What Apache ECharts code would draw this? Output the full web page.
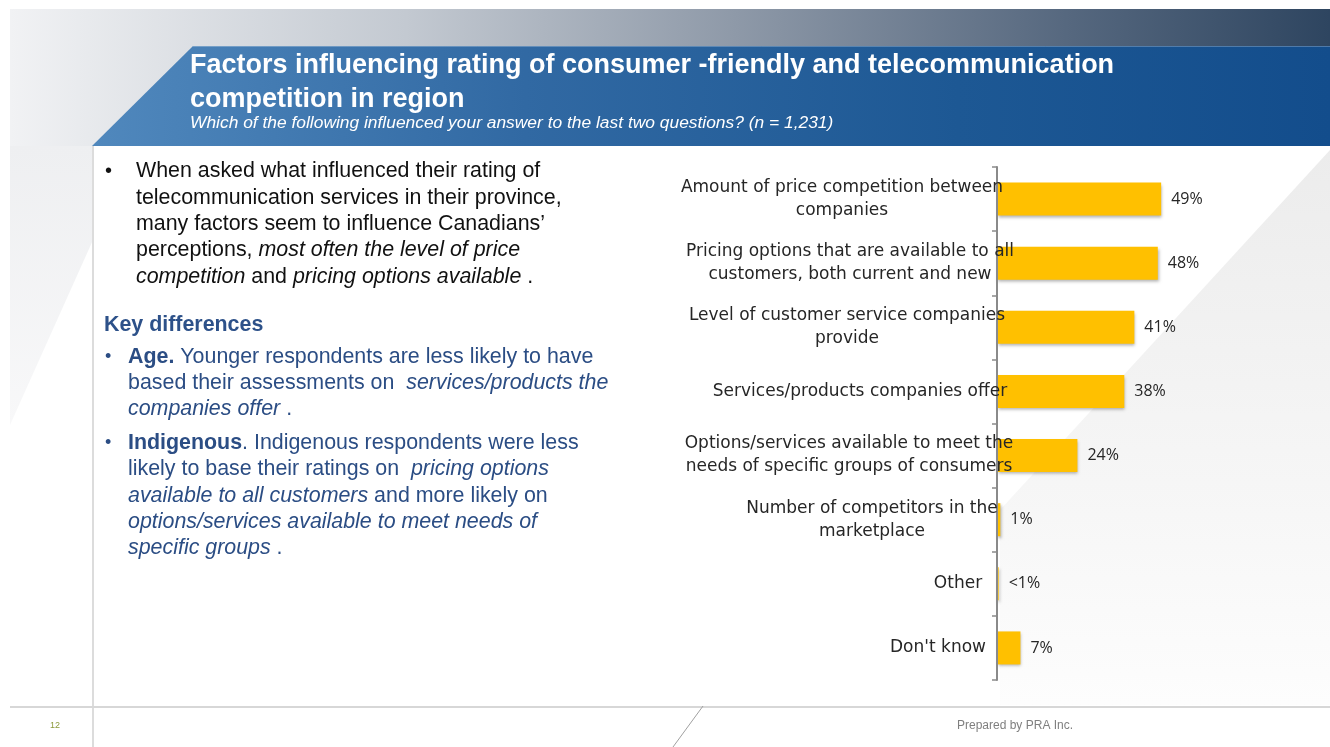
<!DOCTYPE html>
<html>
<head>
<meta charset="utf-8">
<title>Factors influencing rating of consumer-friendly and telecommunication competition in region</title>
<script src="https://cdn.jsdelivr.net/npm/echarts@6/dist/echarts.min.js"></script>
<style>
  html, body { margin: 0; padding: 0; background: #ffffff; }
  #chart { width: 1330px; height: 747px; }
</style>
</head>
<body>
<div id="chart"></div>
<script>
// Survey answers: share of respondents naming each factor (%)
const categories = [
  'Amount of price competition between\ncompanies',
  'Pricing options that are available to all\ncustomers, both current and new',
  'Level of customer service companies\nprovide',
  'Services/products companies offer',
  'Options/services available to meet the\nneeds of specific groups of consumers',
  'Number of competitors in the\nmarketplace',
  'Other',
  "Don't know"
];
const shares = [49, 48, 41, 38, 24, 1, 0.5, 7];

const titleLines = [
  'Factors influencing rating of consumer -friendly and telecommunication',
  'competition in region'
];
const subtitle = 'Which of the following influenced your answer to the last two questions? (n = 1,231)';

// Commentary beside the chart (rich-text markup: {i|..} italic, {b|..} bold)
const summaryLines = [
  'When asked what influenced their rating of',
  'telecommunication services in their province,',
  'many factors seem to influence Canadians\u2019',
  'perceptions, {i|most often the level of price}',
  '{i|competition} and {i|pricing options available} .'
];
const keyHeading = 'Key differences';
const ageLines = [
  '{b|Age.} Younger respondents are less likely to have',
  'based their assessments on  {i|services/products the}',
  '{i|companies offer} .'
];
const indigenousLines = [
  '{b|Indigenous}. Indigenous respondents were less',
  'likely to base their ratings on  {i|pricing options}',
  '{i|available to all customers} and more likely on',
  '{i|options/services available to meet needs of}',
  '{i|specific groups} .'
];

// ---- layout ----
const LABEL_FONT = '"DejaVu Sans", sans-serif';
const BODY_FONT = '"Liberation Sans", Arial, sans-serif';
const BODY_SIZE = 21.4;
// horizontal centre of each category label, relative to the common anchor
const labelCentreShift = [-8, 0, -3, 10, -1, 22, 108, 88];

function shiftPadding(s) {
  return s >= 0 ? [0, 0, 0, 2 * s] : [0, -2 * s, 0, 0];
}

function textLines(lines, x, ys, color, size) {
  return lines.map((t, i) => ({
    type: 'text', x: x, y: ys[i], z: 10,
    style: {
      text: t, fill: color, font: size + 'px ' + BODY_FONT,
      verticalAlign: 'middle', align: 'left',
      rich: {
        i: { fontStyle: 'italic', fontSize: size, fontFamily: BODY_FONT, fill: color, verticalAlign: 'middle' },
        b: { fontWeight: 'bold', fontSize: size, fontFamily: BODY_FONT, fill: color, verticalAlign: 'middle' }
      }
    }
  }));
}

const BLUE_TEXT = '#2b4d84';
const graphics = [
  // header grey band
  { type: 'rect', z: 0, shape: { x: 10, y: 9, width: 1320, height: 137 },
    style: { fill: new echarts.graphic.LinearGradient(0, 0, 1, 0, [
      { offset: 0, color: '#f1f2f4' }, { offset: 0.3, color: '#c3c9d1' },
      { offset: 0.55, color: '#8e99a8' }, { offset: 0.8, color: '#56687f' },
      { offset: 1, color: '#2e4560' }]) } },
  // blue title band
  { type: 'polygon', z: 1, shape: { points: [[193, 46], [1330, 46], [1330, 146], [92, 146]] },
    style: { fill: new echarts.graphic.LinearGradient(0, 0, 1, 0, [
      { offset: 0, color: '#5088bd' }, { offset: 0.35, color: '#3169a3' },
      { offset: 0.7, color: '#1d5894' }, { offset: 1, color: '#134d8c' }]) } },
  { type: 'polyline', z: 2, shape: { points: [[193, 46.5], [1330, 46.5]] },
    style: { stroke: 'rgba(255,255,255,0.25)', lineWidth: 1 } },
  // left margin shading
  { type: 'polygon', z: 0, shape: { points: [[10, 146], [93, 146], [93, 240], [10, 425]] },
    style: { fill: new echarts.graphic.LinearGradient(0, 0, 0, 1, [
      { offset: 0, color: '#eeeff1' }, { offset: 1, color: '#f8f8f9' }]) } },
  // right diagonal shading behind the bars
  { type: 'polygon', z: 0, shape: { points: [[1330, 150], [1000, 510], [1000, 705], [1330, 705]] },
    style: { fill: new echarts.graphic.LinearGradient(0, 0, 0, 1, [
      { offset: 0, color: '#ececec' }, { offset: 0.6, color: '#f6f6f6' }, { offset: 1, color: '#fdfdfd' }]) } },
  // vertical margin rule
  { type: 'line', z: 1, shape: { x1: 93, y1: 146, x2: 93, y2: 747 },
    style: { stroke: '#dcdcdc', lineWidth: 2 } },
  // footer rule and slash
  { type: 'line', z: 1, shape: { x1: 10, y1: 707, x2: 1330, y2: 707 },
    style: { stroke: '#d7d7d7', lineWidth: 2 } },
  { type: 'line', z: 1, shape: { x1: 703, y1: 706, x2: 673, y2: 747 },
    style: { stroke: '#a0a0a0', lineWidth: 1 } },
  { type: 'text', z: 10, x: 50, y: 726,
    style: { text: '12', fill: '#8c9a3c', font: '9px ' + BODY_FONT, verticalAlign: 'middle' } },
  { type: 'text', z: 10, x: 957, y: 726,
    style: { text: 'Prepared by PRA Inc.', fill: '#7f7f7f', font: '12px ' + BODY_FONT, verticalAlign: 'middle' } },
  // title block
  { type: 'text', z: 10, x: 190, y: 65.5,
    style: { text: titleLines[0], fill: '#ffffff', font: 'bold 27px ' + BODY_FONT, verticalAlign: 'middle' } },
  { type: 'text', z: 10, x: 190, y: 99.5,
    style: { text: titleLines[1], fill: '#ffffff', font: 'bold 27px ' + BODY_FONT, verticalAlign: 'middle' } },
  { type: 'text', z: 10, x: 190, y: 123.5,
    style: { text: subtitle, fill: '#ffffff', font: 'italic 17.4px ' + BODY_FONT, verticalAlign: 'middle' } },
  // bullets and heading
  { type: 'text', z: 10, x: 105, y: 171,
    style: { text: '\u2022', fill: '#111111', font: '20px ' + BODY_FONT, verticalAlign: 'middle' } },
  { type: 'text', z: 10, x: 104, y: 325,
    style: { text: keyHeading, fill: '#2d5189', font: 'bold 21.4px ' + BODY_FONT, verticalAlign: 'middle' } },
  { type: 'text', z: 10, x: 105, y: 357,
    style: { text: '\u2022', fill: BLUE_TEXT, font: '18px ' + BODY_FONT, verticalAlign: 'middle' } },
  { type: 'text', z: 10, x: 105, y: 443,
    style: { text: '\u2022', fill: BLUE_TEXT, font: '18px ' + BODY_FONT, verticalAlign: 'middle' } }
]
  .concat(textLines(summaryLines, 136, [171, 198, 224, 250.5, 277], '#111111', BODY_SIZE))
  .concat(textLines(ageLines, 128, [357, 383, 409], BLUE_TEXT, BODY_SIZE))
  .concat(textLines(indigenousLines, 128, [443, 469, 496, 522, 548], BLUE_TEXT, BODY_SIZE));

const chart = echarts.init(document.getElementById('chart'), null, { renderer: 'canvas' });

chart.setOption({
  animation: false,
  backgroundColor: '#ffffff',
  graphic: graphics,
  grid: { left: 997, top: 167, width: 201, height: 513, containLabel: false },
  xAxis: {
    type: 'value', min: 0, max: 60, show: false,
    splitLine: { show: false }
  },
  yAxis: {
    type: 'category',
    inverse: true,
    z: 5,
    data: categories.map((c, i) => ({
      value: c,
      textStyle: {
        align: 'center',
        padding: shiftPadding(labelCentreShift[i])
      }
    })),
    axisLine: { show: true, lineStyle: { color: '#8a8a8a', width: 2 } },
    axisTick: { show: true, length: 5, lineStyle: { color: '#8a8a8a', width: 1.5 } },
    axisLabel: {
      align: 'center',
      margin: 147,
      color: '#262626',
      fontFamily: LABEL_FONT,
      fontSize: 17,
      lineHeight: 23
    }
  },
  series: [{
    type: 'bar',
    data: shares,
    barWidth: 33,
    z: 2,
    itemStyle: {
      color: '#ffc000',
      shadowColor: 'rgba(0,0,0,0.3)',
      shadowBlur: 3,
      shadowOffsetX: 1,
      shadowOffsetY: 2
    },
    label: {
      show: true,
      position: 'right',
      distance: 10,
      color: '#262626',
      fontFamily: '"Open Sans", sans-serif',
      fontSize: 16,
      formatter: p => (p.value < 1 ? '<1%' : p.value + '%')
    }
  }]
});
</script>
</body>
</html>
